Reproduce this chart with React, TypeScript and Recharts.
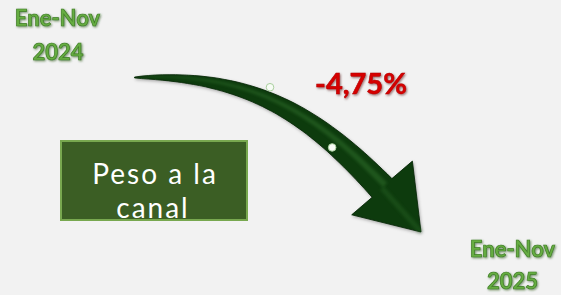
import {
    ComposedChart,
    Customized,
    ReferenceLine,
    Scatter,
    XAxis,
    YAxis,
} from "recharts";

// periods compared (2024 taken as index 100)
const periods = ["Ene-Nov 2024", "Ene-Nov 2025"];
const periodPos = [0, 1];
const indexValues = [100, 95.25];
const changeLabel = "-4,75%";
const titleLines = ["Peso a la", "canal"];

// the two small highlight dots sitting on the arrow
const markerPos = [0.473, 0.69];
const markerValues = [99.7, 97.85];

const segment = periodPos.map((x, i) => ({ x, y: indexValues[i] }));
const markers = markerPos.map((x, i) => ({ x, y: markerValues[i] }));

const FONT = "Lato, 'Open Sans', sans-serif";

function CurvedArrow(props: any) {
    const { x1, y1, x2, y2 } = props;
    if ([x1, y1, x2, y2].some((v) => typeof v !== "number" || isNaN(v))) {
        return null;
    }
    const dx = x2 - x1;
    const dy = y2 - y1;
    const p0 = [x1, y1];
    const p1 = [x1 + 0.403 * dx, y1 - 0.023 * dy];
    const p2 = [x1 + 0.62 * dx, y1 + 0.236 * dy];
    const h = [x1 + 0.864 * dx, y1 + 0.715 * dy];

    const bez = (t: number) => {
        const a = (1 - t) ** 3,
            b = 3 * (1 - t) ** 2 * t,
            c = 3 * (1 - t) * t * t,
            d = t ** 3;
        return [
            a * p0[0] + b * p1[0] + c * p2[0] + d * h[0],
            a * p0[1] + b * p1[1] + c * p2[1] + d * h[1],
        ];
    };
    const der = (t: number) => {
        const a = 3 * (1 - t) ** 2,
            b = 6 * (1 - t) * t,
            c = 3 * t * t;
        return [
            a * (p1[0] - p0[0]) + b * (p2[0] - p1[0]) + c * (h[0] - p2[0]),
            a * (p1[1] - p0[1]) + b * (p2[1] - p1[1]) + c * (h[1] - p2[1]),
        ];
    };
    const halfW = (t: number) => 0.4 + 13.2 * Math.pow(t, 0.7);

    const N = 48;
    const upper: number[][] = [];
    const lower: number[][] = [];
    const hiUp: number[][] = [];
    const hiLow: number[][] = [];
    for (let i = 0; i <= N; i++) {
        const t = i / N;
        const [bx, by] = bez(t);
        const [ddx, ddy] = der(t);
        const len = Math.hypot(ddx, ddy) || 1;
        const nx = ddy / len;
        const ny = -ddx / len;
        const w = halfW(t);
        upper.push([bx + nx * w, by + ny * w]);
        lower.push([bx - nx * w, by - ny * w]);
        const off = 0.3 * w;
        const hw = 0.22 * w;
        hiUp.push([bx + nx * (off + hw), by + ny * (off + hw)]);
        hiLow.push([bx + nx * (off - hw), by + ny * (off - hw)]);
    }

    const ax = x2 - h[0];
    const ay = y2 - h[1];
    const alen = Math.hypot(ax, ay);
    const px = ay / alen;
    const py = -ax / alen;
    const hw = 40.5;
    const top = [h[0] + px * hw, h[1] + py * hw];
    const left = [h[0] - px * hw, h[1] - py * hw];

    const pts = [
        ...upper,
        top,
        [x2, y2],
        left,
        ...lower.slice().reverse(),
    ];
    const d =
        pts.map((p, i) => `${i ? "L" : "M"}${p[0].toFixed(1)},${p[1].toFixed(1)}`).join(" ") + " Z";
    const hiPts = [...hiUp, ...hiLow.slice().reverse()];
    const hiD =
        hiPts.map((p, i) => `${i ? "L" : "M"}${p[0].toFixed(1)},${p[1].toFixed(1)}`).join(" ") + " Z";

    // faint ridge on the head, from the base centre to the tip
    const ridge = `M${h[0].toFixed(1)},${h[1].toFixed(1)} L${x2.toFixed(1)},${y2.toFixed(1)}`;

    return (
        <g>
            <defs>
                <filter id="arrowBlur" x="-20%" y="-20%" width="140%" height="140%">
                    <feGaussianBlur stdDeviation="1.4" />
                </filter>
                <filter id="arrowShadow" x="-20%" y="-20%" width="140%" height="140%">
                    <feDropShadow dx="1" dy="1.5" stdDeviation="1.5" floodColor="#000" floodOpacity="0.3" />
                </filter>
            </defs>
            <path d={d} fill="#0b3a0b" stroke="#052205" strokeWidth={0.8} filter="url(#arrowShadow)" />
            <path d={hiD} fill="#3a8034" opacity={0.4} filter="url(#arrowBlur)" />
            <path d={ridge} stroke="#2f6d2a" strokeWidth={5} opacity={0.35} filter="url(#arrowBlur)" />
        </g>
    );
}

function Marker(props: any) {
    const { cx, cy } = props;
    return <circle cx={cx} cy={cy} r={3.8} fill="#f7fcf5" stroke="#a9cf9e" strokeWidth={1} />;
}

function Overlay() {
    const [p1, p2] = periods.map((p) => {
        const i = p.lastIndexOf(" ");
        return [p.slice(0, i), p.slice(i + 1)];
    });
    const periodStyle = {
        fontFamily: FONT,
        fontWeight: 700,
        fontSize: 22,
        fill: "#66ad42",
        stroke: "#3f7d26",
        strokeWidth: 0.7,
    };
    const titleStyle = { fontFamily: FONT, fontSize: 28, fill: "#ffffff", letterSpacing: 2 };
    return (
        <g>
            <defs>
                <filter id="greenGlow" x="-20%" y="-30%" width="140%" height="160%">
                    <feDropShadow dx="1" dy="1" stdDeviation="1.3" floodColor="#1f4d12" floodOpacity="0.6" />
                </filter>
                <filter id="redShadow" x="-20%" y="-30%" width="140%" height="160%">
                    <feDropShadow dx="1" dy="1.2" stdDeviation="1" floodColor="#4a0000" floodOpacity="0.55" />
                </filter>
            </defs>
            <g filter="url(#greenGlow)" style={periodStyle as any}>
                <text x={57.5} y={26} textAnchor="middle">{p1[0]}</text>
                <text x={58} y={60} textAnchor="middle">{p1[1]}</text>
                <text x={512.5} y={257} textAnchor="middle">{p2[0]}</text>
                <text x={512.5} y={289} textAnchor="middle">{p2[1]}</text>
            </g>
            <text
                x={361}
                y={94}
                textAnchor="middle"
                filter="url(#redShadow)"
                style={{ fontFamily: FONT, fontWeight: 700, fontSize: 29, fill: "#d60000", stroke: "#b00000", strokeWidth: 0.5 }}
            >
                {changeLabel}
            </text>
            <rect x={61} y={141} width={186} height={79} fill="#3b5e24" stroke="#78a84f" strokeWidth={2} />
            <text x={155} y={184} textAnchor="middle" style={titleStyle}>
                {titleLines[0]}
            </text>
            <text x={153} y={218} textAnchor="middle" style={titleStyle}>
                {titleLines[1]}
            </text>
        </g>
    );
}

export default function App() {
    return (
        <div style={{ width: 561, height: 295, background: "#f2f2f2" }}>
            <style>{"body{margin:0}"}</style>
            <ComposedChart
                width={561}
                height={295}
                margin={{ top: 77.5, right: 140, bottom: 63, left: 134.5 }}
            >
                <XAxis dataKey="x" type="number" domain={[0, 1]} hide />
                <YAxis dataKey="y" type="number" domain={[95.25, 100]} hide />
                <Customized component={<Overlay />} />
                <ReferenceLine segment={segment} shape={CurvedArrow} ifOverflow="visible" />
                <Scatter data={markers} dataKey="y" shape={Marker} isAnimationActive={false} />
            </ComposedChart>
        </div>
    );
}
